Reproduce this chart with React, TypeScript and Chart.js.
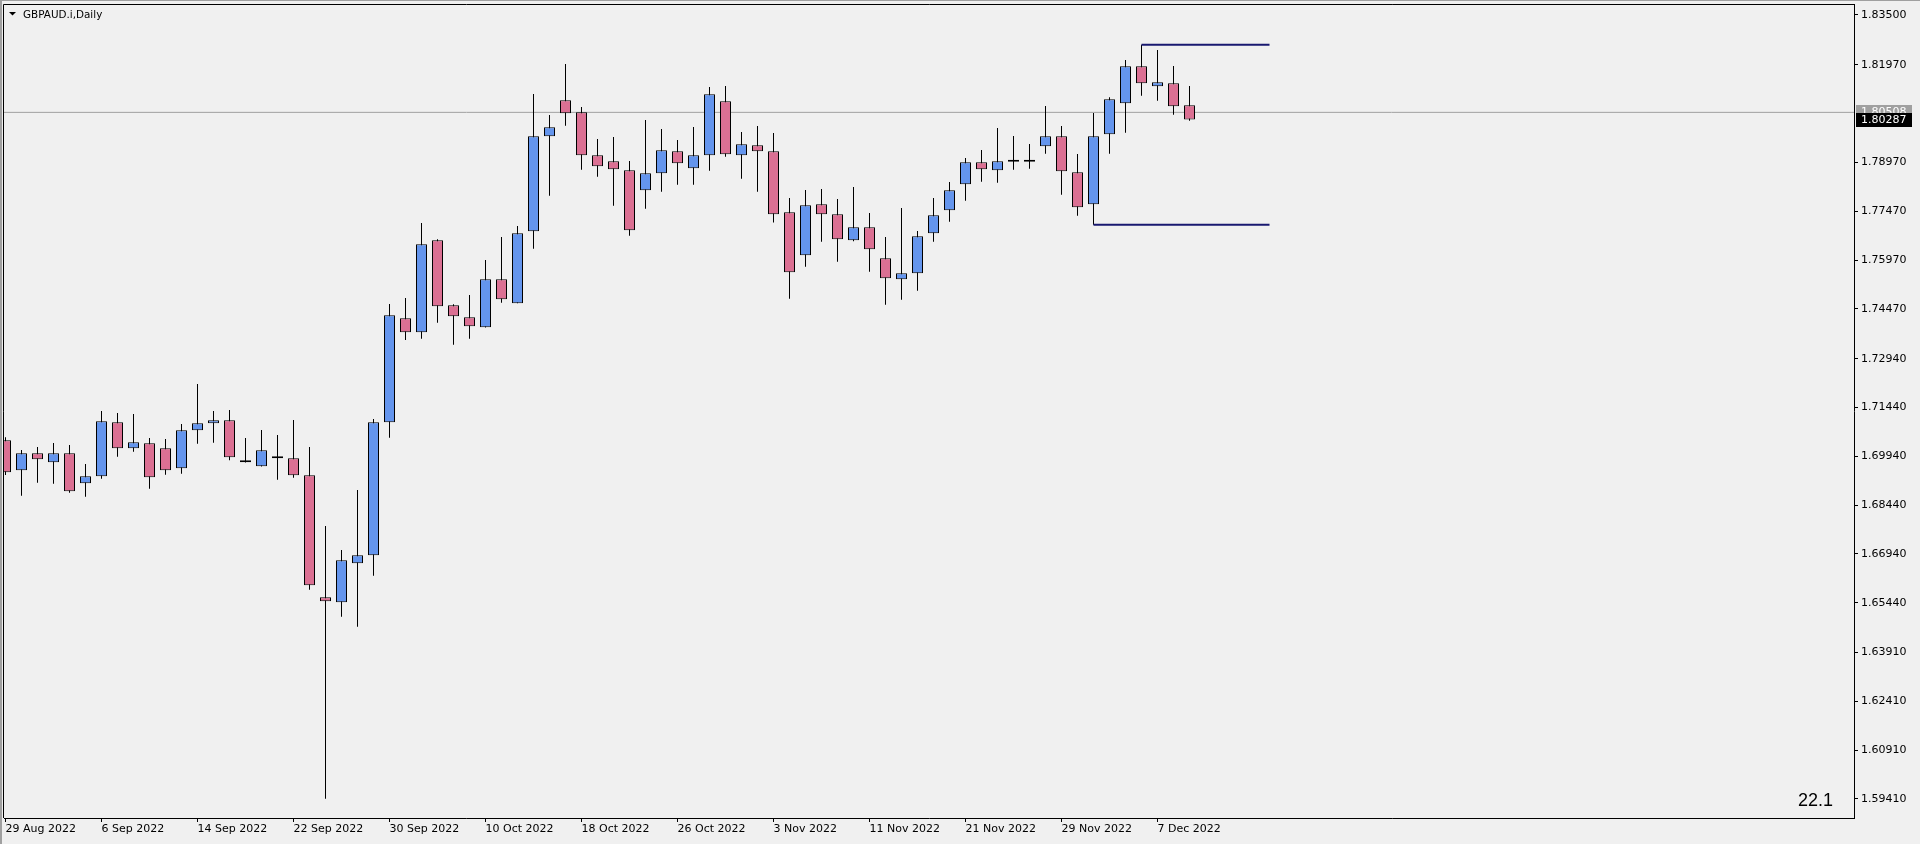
import React, { useEffect, useRef } from 'react';
import { Chart, registerables } from 'chart.js';

Chart.register(...registerables);

// ---------- data ----------
const title = 'GBPAUD.i,Daily';
const cornerText = '22.1';

const dates = [
  '29 Aug 2022', '30 Aug 2022', '31 Aug 2022', '1 Sep 2022', '2 Sep 2022', '5 Sep 2022', '6 Sep 2022', '7 Sep 2022', '8 Sep 2022', '9 Sep 2022',
  '12 Sep 2022', '13 Sep 2022', '14 Sep 2022', '15 Sep 2022', '16 Sep 2022', '19 Sep 2022', '20 Sep 2022', '21 Sep 2022', '22 Sep 2022', '23 Sep 2022',
  '26 Sep 2022', '27 Sep 2022', '28 Sep 2022', '29 Sep 2022', '30 Sep 2022', '3 Oct 2022', '4 Oct 2022', '5 Oct 2022', '6 Oct 2022', '7 Oct 2022',
  '10 Oct 2022', '11 Oct 2022', '12 Oct 2022', '13 Oct 2022', '14 Oct 2022', '17 Oct 2022', '18 Oct 2022', '19 Oct 2022', '20 Oct 2022', '21 Oct 2022',
  '24 Oct 2022', '25 Oct 2022', '26 Oct 2022', '27 Oct 2022', '28 Oct 2022', '31 Oct 2022', '1 Nov 2022', '2 Nov 2022', '3 Nov 2022', '4 Nov 2022',
  '7 Nov 2022', '8 Nov 2022', '9 Nov 2022', '10 Nov 2022', '11 Nov 2022', '14 Nov 2022', '15 Nov 2022', '16 Nov 2022', '17 Nov 2022', '18 Nov 2022',
  '21 Nov 2022', '22 Nov 2022', '23 Nov 2022', '24 Nov 2022', '25 Nov 2022', '28 Nov 2022', '29 Nov 2022', '30 Nov 2022', '1 Dec 2022', '2 Dec 2022',
  '5 Dec 2022', '6 Dec 2022', '7 Dec 2022', '8 Dec 2022', '9 Dec 2022',
];

const opens = [
  1.70432, 1.69510, 1.70032, 1.69756, 1.70032, 1.69111, 1.69326, 1.70985, 1.70186, 1.70340,
  1.70186, 1.69572, 1.70739, 1.70954, 1.71046, 1.69756, 1.69633, 1.69940, 1.69879, 1.69356,
  1.65608, 1.65454, 1.66652, 1.66898, 1.70985, 1.74181, 1.73750, 1.76577, 1.74580, 1.74211,
  1.73904, 1.75379, 1.74641, 1.76854, 1.79773, 1.80879, 1.80510, 1.79189, 1.79005, 1.78728,
  1.78114, 1.78636, 1.79312, 1.78790, 1.79189, 1.80848, 1.79189, 1.79496, 1.79312, 1.77438,
  1.76116, 1.77683, 1.77376, 1.76577, 1.76977, 1.76024, 1.75379, 1.75563, 1.76792, 1.77499,
  1.78298, 1.78974, 1.78728, 1.78992, 1.78992, 1.79466, 1.79773, 1.78667, 1.77683, 1.79834,
  1.80787, 1.81924, 1.81309, 1.81401, 1.80725,
];

const highs = [
  1.70524, 1.70134, 1.70226, 1.70349, 1.70287, 1.69704, 1.71332, 1.71271, 1.71240, 1.70503,
  1.70472, 1.70933, 1.72162, 1.71332, 1.71363, 1.70503, 1.70748, 1.70595, 1.71056, 1.70226,
  1.67799, 1.67061, 1.68905, 1.71086, 1.74620, 1.74804, 1.77109, 1.76608, 1.74611, 1.74897,
  1.75972, 1.76679, 1.77017, 1.81073, 1.80427, 1.81994, 1.80673, 1.79690, 1.79751, 1.79014,
  1.80274, 1.79997, 1.79659, 1.80059, 1.81288, 1.81318, 1.79905, 1.80089, 1.79874, 1.77877,
  1.78123, 1.78154, 1.77846, 1.78215, 1.77416, 1.76679, 1.77570, 1.76863, 1.77877, 1.78369,
  1.79106, 1.79352, 1.80028, 1.79782, 1.79536, 1.80704, 1.80089, 1.79229, 1.80489, 1.80971,
  1.82117, 1.82588, 1.82425, 1.81933, 1.81318,
];

const lows = [
  1.69366, 1.68730, 1.69129, 1.69098, 1.68822, 1.68699, 1.69252, 1.69928, 1.70082, 1.68945,
  1.69375, 1.69406, 1.70327, 1.70358, 1.69817, 1.69750, 1.69630, 1.69221, 1.69283, 1.65841,
  1.59419, 1.65012, 1.64704, 1.66271, 1.70512, 1.73514, 1.73554, 1.74045, 1.73369, 1.73554,
  1.73900, 1.74660, 1.74640, 1.76319, 1.77948, 1.80099, 1.78747, 1.78532, 1.77640, 1.76719,
  1.77548, 1.78071, 1.78286, 1.78286, 1.78716, 1.79146, 1.78470, 1.78071, 1.77124, 1.74783,
  1.75766, 1.76534, 1.75920, 1.76547, 1.75612, 1.74598, 1.74752, 1.75029, 1.76534, 1.77149,
  1.77794, 1.78378, 1.78347, 1.78747, 1.78777, 1.79238, 1.77978, 1.77333, 1.77057, 1.79238,
  1.79884, 1.81020, 1.80867, 1.80437, 1.80252,
];

const closes = [
  1.69449, 1.70032, 1.69848, 1.70032, 1.68865, 1.69326, 1.71016, 1.70186, 1.70370, 1.69295,
  1.69510, 1.70739, 1.70954, 1.71046, 1.69910, 1.69756, 1.70125, 1.69879, 1.69356, 1.65976,
  1.65485, 1.66745, 1.66898, 1.70985, 1.74273, 1.73750, 1.76454, 1.74549, 1.74242, 1.73935,
  1.75379, 1.74764, 1.76792, 1.79773, 1.80049, 1.80480, 1.79189, 1.78851, 1.78759, 1.76885,
  1.78636, 1.79343, 1.78943, 1.79189, 1.81063, 1.79220, 1.79527, 1.79312, 1.77376, 1.75594,
  1.77653, 1.77376, 1.76608, 1.76977, 1.76301, 1.75410, 1.75563, 1.76700, 1.77345, 1.78114,
  1.78974, 1.78759, 1.79005, 1.78992, 1.78992, 1.79773, 1.78697, 1.77591, 1.79773, 1.80910,
  1.81924, 1.81401, 1.81432, 1.80695, 1.80287,
];

const yTickValues = [
  1.835, 1.8197, 1.7897, 1.7747, 1.7597, 1.7447, 1.7294, 1.7144,
  1.6994, 1.6844, 1.6694, 1.6544, 1.6391, 1.6241, 1.6091, 1.5941,
];
const xLabelEvery = 6;

// horizontal level lines: [startBar, endBar, price]
const upperLevel = [71, 79, 1.82588];
const lowerLevel = [68, 79, 1.77057];
const askPrice = 1.80508;
const bidPrice = 1.80287;

// ---------- layout ----------
const W = 1920;
const H = 844;
const X_MIN = -0.09375;
const X_MAX = 115.53125;
const Y_MIN = 1.58826;
const Y_MAX = 1.83838;
const BULL = '#6495ED';
const BEAR = '#DB7093';
const FONT = 'DejaVu Sans';

const decorPlugin = {
  id: 'decor',
  beforeDraw(chart: any) {
    const ctx = chart.ctx;
    ctx.save();
    ctx.fillStyle = '#F0F0F0';
    ctx.fillRect(0, 0, chart.width, chart.height);
    ctx.restore();
  },
  afterDraw(chart: any) {
    const ctx = chart.ctx;
    const a = chart.chartArea;
    const ys = chart.scales.y;
    ctx.save();
    // window border
    ctx.fillStyle = '#A0A0A0';
    ctx.fillRect(0, 0, chart.width, 1);
    ctx.fillRect(0, 0, 2, chart.height);
    // frame top/left
    ctx.strokeStyle = '#000';
    ctx.lineWidth = 1;
    ctx.beginPath();
    ctx.moveTo(a.left - 0.5, a.bottom);
    ctx.lineTo(a.left - 0.5, a.top + 0.5);
    ctx.lineTo(a.right + 1, a.top + 0.5);
    ctx.stroke();

    // title
    ctx.fillStyle = '#000';
    ctx.beginPath();
    ctx.moveTo(9, 12);
    ctx.lineTo(16, 12);
    ctx.lineTo(12.5, 15.5);
    ctx.closePath();
    ctx.fill();
    ctx.font = `10.4px "${FONT}"`;
    ctx.textBaseline = 'middle';
    ctx.textAlign = 'left';
    ctx.fillText(title, 23, 15);

    // corner text
    ctx.font = `18px "Liberation Sans"`;
    ctx.textAlign = 'right';
    ctx.fillText(cornerText, a.right - 21, a.bottom - 17);

    // price labels
    ctx.font = `11px "${FONT}"`;
    ctx.textAlign = 'left';
    const yA = Math.round(ys.getPixelForValue(askPrice));
    ctx.fillStyle = '#A0A0A0';
    ctx.fillRect(a.right + 2, yA - 7, 56, 14);
    ctx.fillStyle = '#FFFFFF';
    ctx.fillText(askPrice.toFixed(5), a.right + 7, yA);
    const yB = Math.round(ys.getPixelForValue(bidPrice));
    ctx.fillStyle = '#000000';
    ctx.fillRect(a.right + 2, yB - 7, 56, 14);
    ctx.fillStyle = '#FFFFFF';
    ctx.fillText(bidPrice.toFixed(5), a.right + 7, yB);
    ctx.restore();
  },
};

export default function App() {
  const ref = useRef<HTMLCanvasElement | null>(null);

  useEffect(() => {
    document.body.style.margin = '0';
    document.body.style.background = '#F0F0F0';
    const canvas = ref.current;
    if (!canvas) return;

    const colors = opens.map((o, i) => (closes[i] >= o ? BULL : BEAR));

    const chart = new Chart(canvas, {
      type: 'bar',
      data: {
        datasets: [
          {
            type: 'line',
            data: [{ x: X_MIN, y: askPrice }, { x: X_MAX, y: askPrice }],
            borderColor: '#A0A0A0',
            borderWidth: 1,
            pointRadius: 0,
            order: 5,
          } as any,
          {
            type: 'bar',
            data: dates.map((_, i) => ({ x: i, y: [lows[i], highs[i]] })),
            backgroundColor: '#000000',
            borderWidth: 0,
            barThickness: 1,
            grouped: false,
            inflateAmount: 0,
            order: 3,
            clip: 0,
          } as any,
          {
            type: 'bar',
            data: dates.map((_, i) => ({ x: i, y: [opens[i], closes[i]] })),
            backgroundColor: colors,
            borderColor: '#000000',
            borderWidth: 1,
            borderSkipped: false,
            barThickness: 11,
            minBarLength: 2,
            grouped: false,
            inflateAmount: 0,
            order: 2,
            clip: 0,
          } as any,
          {
            type: 'line',
            data: [{ x: upperLevel[0], y: upperLevel[2] }, { x: upperLevel[1], y: upperLevel[2] }],
            borderColor: '#191970',
            borderWidth: 2,
            pointRadius: 0,
            order: 1,
          } as any,
          {
            type: 'line',
            data: [{ x: lowerLevel[0], y: lowerLevel[2] }, { x: lowerLevel[1], y: lowerLevel[2] }],
            borderColor: '#191970',
            borderWidth: 2,
            pointRadius: 0,
            order: 1,
          } as any,
        ],
      },
      options: {
        responsive: false,
        animation: false,
        devicePixelRatio: 1,
        layout: { padding: { left: 4, top: 4, right: 0, bottom: 0 } },
        plugins: { legend: { display: false }, tooltip: { enabled: false }, title: { display: false } },
        scales: {
          x: {
            type: 'linear',
            position: 'bottom',
            offset: false,
            min: X_MIN,
            max: X_MAX,
            grid: { offset: false, drawOnChartArea: false, drawTicks: true, tickLength: 4, color: '#000', tickColor: '#000' },
            border: { display: true, color: '#000', width: 1 },
            ticks: {
              autoSkip: false,
              maxRotation: 0,
              minRotation: 0,
              align: 'start',
              padding: 1,
              color: '#000',
              font: { family: FONT, size: 11 },
              callback: (v: any) => dates[Math.round(Number(v))] ?? '',
            },
            afterBuildTicks: (s: any) => {
              s.ticks = dates.map((_, i) => i).filter((i) => i % xLabelEvery === 0).map((v) => ({ value: v }));
            },
            afterFit: (s: any) => {
              s.height = 26;
              s.paddingLeft = 0;
              s.paddingRight = 0;
            },
          },
          y: {
            type: 'linear',
            position: 'right',
            min: Y_MIN,
            max: Y_MAX,
            grid: { drawOnChartArea: false, drawTicks: true, tickLength: 4, color: '#000', tickColor: '#000' },
            border: { display: true, color: '#000', width: 1 },
            ticks: {
              padding: 3,
              color: '#000',
              font: { family: FONT, size: 11 },
              callback: (v: any) => Number(v).toFixed(5),
            },
            afterBuildTicks: (s: any) => {
              s.ticks = yTickValues.map((v) => ({ value: v }));
            },
            afterFit: (s: any) => {
              s.width = 66;
              s.paddingTop = 0;
              s.paddingBottom = 0;
            },
          },
        },
      } as any,
      plugins: [decorPlugin],
    });
    return () => chart.destroy();
  }, []);

  return (
    <canvas
      ref={ref}
      width={W}
      height={H}
      style={{ display: 'block', width: W + 'px', height: H + 'px' }}
    />
  );
}
